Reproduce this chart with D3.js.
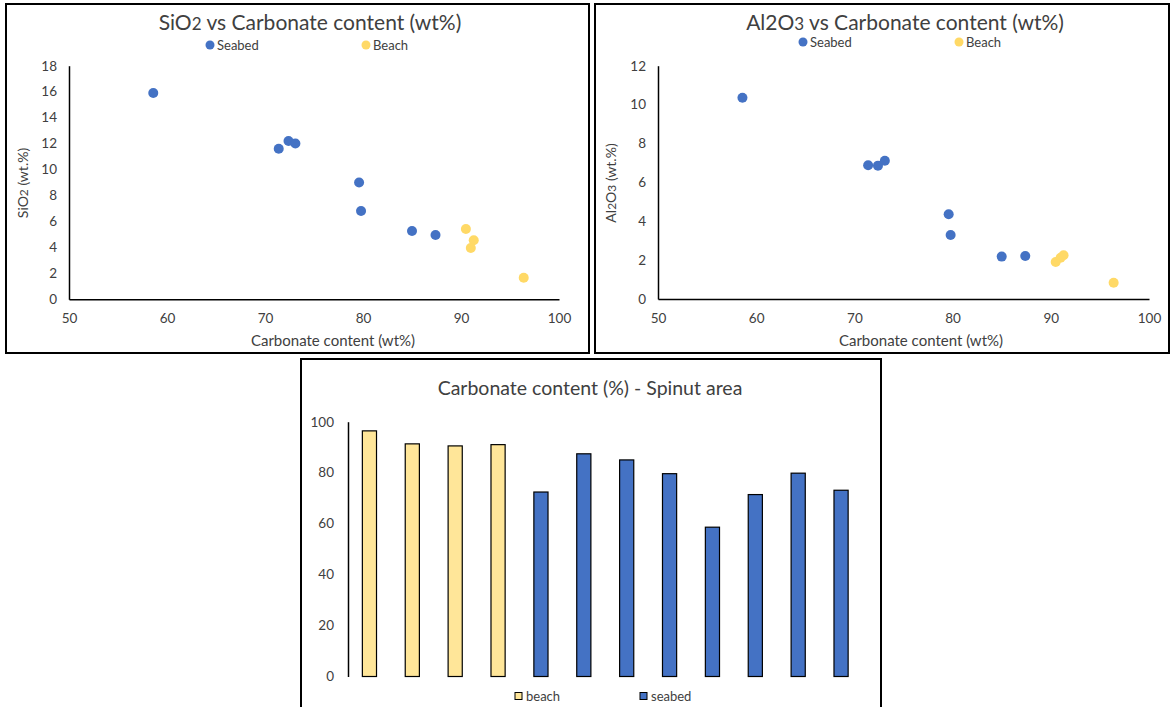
<!DOCTYPE html>
<html>
<head>
<meta charset="utf-8">
<script src="https://cdn.jsdelivr.net/npm/d3@7"></script>
<style>
  body { margin: 0; background: #fff; }
  text { font-family: Lato, "Open Sans", sans-serif; fill: #404040; }
</style>
</head>
<body>
<svg id="chart"></svg>
<script>
// sample data, same order as the bars in the bottom chart
const samples = ["B1", "B2", "B3", "B4", "S1", "S2", "S3", "S4", "S5", "S6", "S7", "S8"];
const groups = ["beach", "beach", "beach", "beach", "seabed", "seabed", "seabed", "seabed", "seabed", "seabed", "seabed", "seabed"];
const carbonate = [96.4, 91.3, 90.5, 91.0, 72.4, 87.4, 85.0, 79.6, 58.6, 71.4, 79.8, 73.1];
const sio2 = [1.66, 4.55, 5.42, 3.95, 12.2, 4.95, 5.26, 9.0, 15.9, 11.6, 6.8, 12.0];
const al2o3 = [0.84, 2.25, 1.9, 2.12, 6.86, 2.21, 2.18, 4.36, 10.35, 6.88, 3.29, 7.11];

const xTicks = [50, 60, 70, 80, 90, 100];
const sioTicks = [0, 2, 4, 6, 8, 10, 12, 14, 16, 18];
const alTicks = [0, 2, 4, 6, 8, 10, 12];
const barTicks = [0, 20, 40, 60, 80, 100];

const blue = "#4472C4";
const gold = "#FFD966";
const barGold = "#FFE699";

const svg = d3.select("#chart")
    .attr("width", 1172)
    .attr("height", 707);

svg.append("rect").attr("width", 1172).attr("height", 707).attr("fill", "#fff");

const data = samples.map((s, i) => ({
    name: s, group: groups[i], carb: carbonate[i], sio2: sio2[i], al2o3: al2o3[i]
}));

// text with optional small digits (e.g. SiO2)
function richText(g, parts, attrs) {
    const t = g.append("text");
    Object.entries(attrs).forEach(([k, v]) => t.attr(k, v));
    parts.forEach(p => {
        const ts = t.append("tspan").text(p[0]);
        if (p[1]) ts.attr("font-size", p[1]);
    });
    return t;
}

function scatter(cfg) {
    const g = svg.append("g");
    g.append("rect")
        .attr("x", cfg.frame[0]).attr("y", cfg.frame[1])
        .attr("width", cfg.frame[2]).attr("height", cfg.frame[3])
        .attr("fill", "none").attr("stroke", "#000").attr("stroke-width", 2);

    const x = d3.scaleLinear().domain([50, 100]).range(cfg.xr);
    const y = d3.scaleLinear().domain([0, cfg.ymax]).range(cfg.yr);

    const yAxis = g.append("g")
        .attr("transform", `translate(${cfg.xr[0]},0)`)
        .call(d3.axisLeft(y).tickValues(cfg.yTicks).tickSize(0).tickPadding(12));
    const xAxis = g.append("g")
        .attr("transform", `translate(0,${cfg.yr[0]})`)
        .call(d3.axisBottom(x).tickValues(xTicks).tickSize(0).tickPadding(14));
    [xAxis, yAxis].forEach(a => {
        a.select(".domain").attr("stroke", "#000").attr("stroke-width", 1.5);
        a.selectAll("text").attr("font-size", 13.5).attr("fill", "#404040")
            .attr("font-family", "Lato, sans-serif");
    });

    richText(g, cfg.title, {
        x: cfg.titleX, y: 30, "text-anchor": "middle", "font-size": 21
    });
    g.append("text")
        .attr("x", cfg.xlabelX).attr("y", 346)
        .attr("text-anchor", "middle").attr("font-size", 15)
        .text("Carbonate content (wt%)");
    richText(g, cfg.ylabel, {
        transform: `translate(${cfg.ylabelX},183) rotate(-90)`,
        "text-anchor": "middle", "font-size": 14
    });

    // legend
    [["Seabed", blue, cfg.leg[0]], ["Beach", gold, cfg.leg[1]]].forEach(l => {
        g.append("circle").attr("cx", l[2]).attr("cy", cfg.legY).attr("r", 4.5).attr("fill", l[1]);
        g.append("text").attr("x", l[2] + 7).attr("y", cfg.legY + 4.5)
            .attr("font-size", 13).text(l[0]);
    });

    g.selectAll("circle.pt")
        .data(data)
        .enter()
        .append("circle")
        .attr("class", "pt")
        .attr("cx", d => x(d.carb))
        .attr("cy", d => y(d[cfg.key]))
        .attr("r", 5)
        .attr("fill", d => d.group === "beach" ? gold : blue);
}

scatter({
    frame: [6, 4, 583, 349],
    xr: [69, 559], yr: [299.3, 65.7], ymax: 18, yTicks: sioTicks,
    key: "sio2",
    title: [["SiO"], ["2", 17], [" vs Carbonate content (wt%)"]], titleX: 310,
    xlabelX: 333,
    ylabel: [["SiO"], ["2", 12], [" (wt.%)"]], ylabelX: 28,
    leg: [210, 366], legY: 45
});

scatter({
    frame: [595, 4, 574, 349],
    xr: [658, 1149], yr: [299, 65.7], ymax: 12, yTicks: alTicks,
    key: "al2o3",
    title: [["Al2O"], ["3", 17], [" vs Carbonate content (wt%)"]], titleX: 905,
    xlabelX: 921,
    ylabel: [["Al"], ["2", 12], ["O"], ["3", 12], [" (wt.%)"]], ylabelX: 616,
    leg: [803, 959], legY: 42
});

// bar chart
const gb = svg.append("g");
gb.append("rect")
    .attr("x", 301).attr("y", 359).attr("width", 580).attr("height", 360)
    .attr("fill", "none").attr("stroke", "#000").attr("stroke-width", 2);

const xb = d3.scaleBand().domain(samples).range([348, 862.5]).paddingInner(0.67).paddingOuter(0.335);
const yb = d3.scaleLinear().domain([0, 100]).range([676.5, 421.7]);

const yAxisB = gb.append("g")
    .attr("transform", "translate(348,0)")
    .call(d3.axisLeft(yb).tickValues(barTicks).tickSize(0).tickPadding(14));
yAxisB.select(".domain").attr("stroke", "#000").attr("stroke-width", 1.5);
yAxisB.selectAll("text").attr("font-size", 13.5).attr("fill", "#404040")
    .attr("font-family", "Lato, sans-serif");

gb.selectAll("rect.bar")
    .data(data)
    .enter()
    .append("rect")
    .attr("class", "bar")
    .attr("x", d => xb(d.name))
    .attr("y", d => yb(d.carb))
    .attr("width", xb.bandwidth())
    .attr("height", d => yb(0) - yb(d.carb))
    .attr("fill", d => d.group === "beach" ? barGold : blue)
    .attr("stroke", "#000")
    .attr("stroke-width", 1.2);

gb.append("text")
    .attr("x", 590).attr("y", 395)
    .attr("text-anchor", "middle").attr("font-size", 19.5)
    .text("Carbonate content (%) - Spinut area");

[["beach", barGold, 515], ["seabed", blue, 640]].forEach(l => {
    gb.append("rect").attr("x", l[2]).attr("y", 692.5).attr("width", 7).attr("height", 7)
        .attr("fill", l[1]).attr("stroke", "#000").attr("stroke-width", 1);
    gb.append("text").attr("x", l[2] + 11).attr("y", 701).attr("font-size", 13).text(l[0]);
});
</script>
</body>
</html>
